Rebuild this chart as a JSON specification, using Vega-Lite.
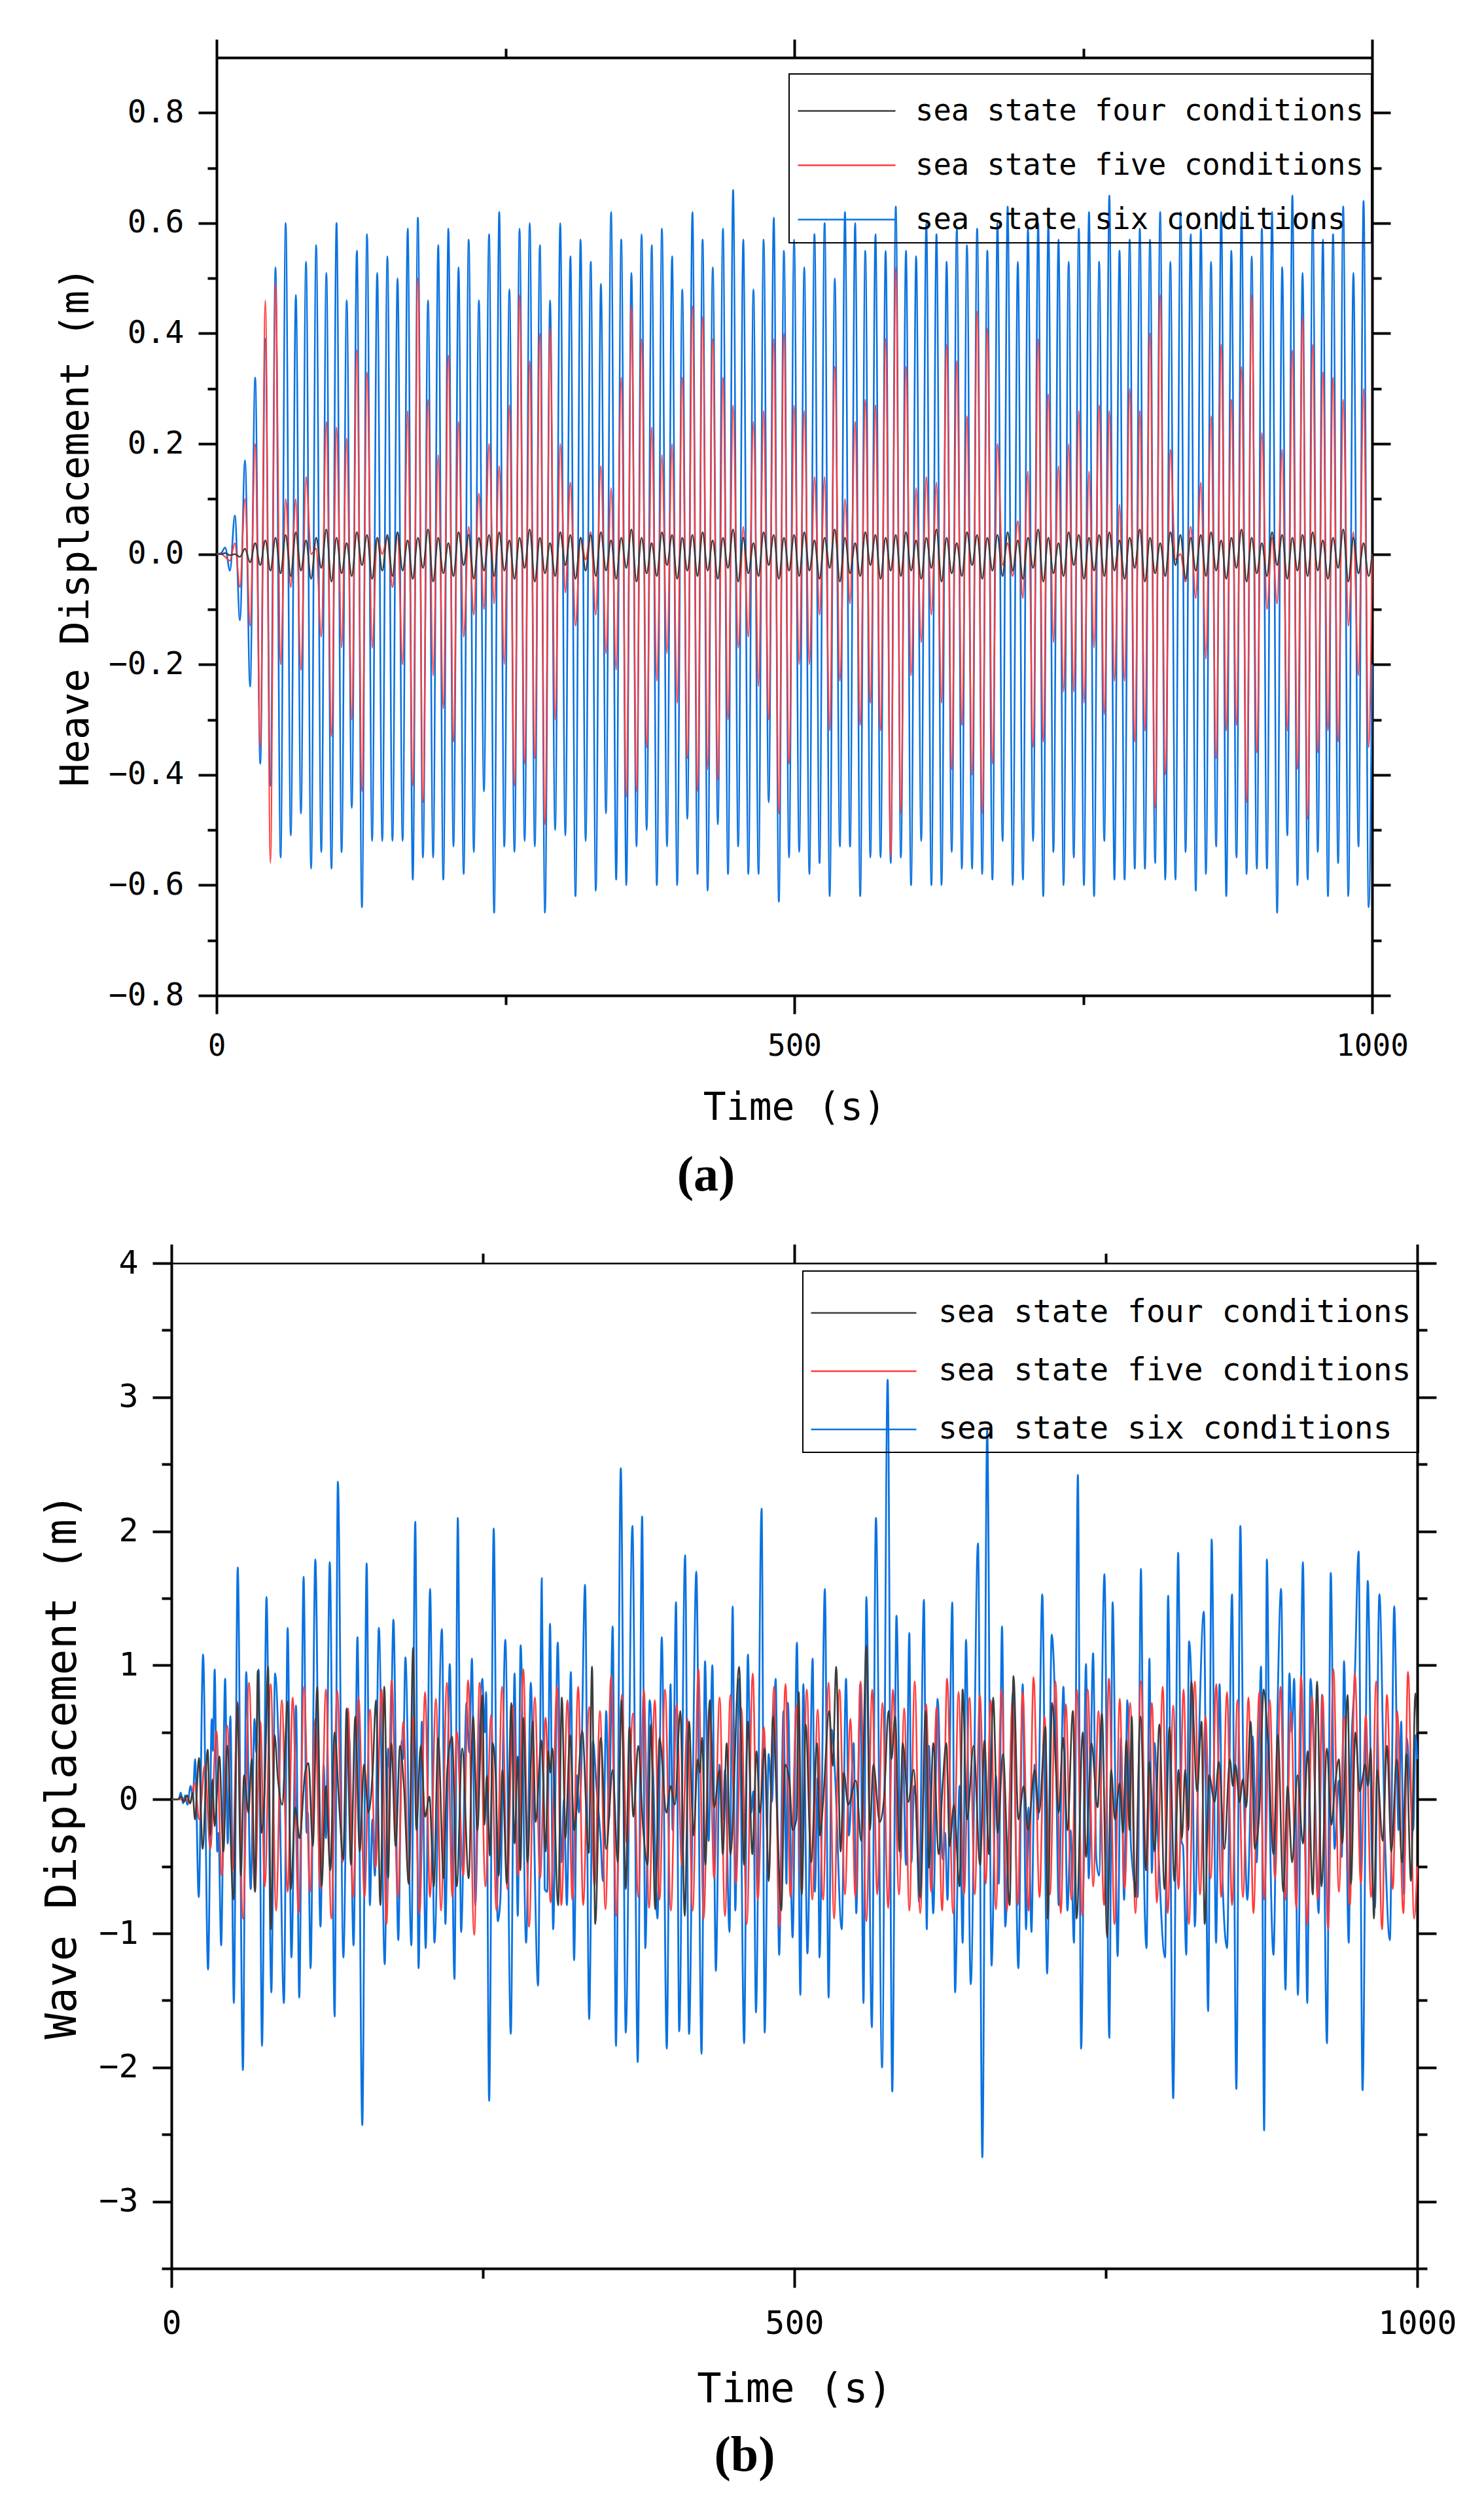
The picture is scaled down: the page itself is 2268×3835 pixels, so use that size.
{
  "$schema": "https://vega.github.io/schema/vega-lite/v6.json",
  "background": "white",
  "padding": {"left": 62, "top": 58, "right": 20, "bottom": 20},
  "config": {
    "font": "DejaVu Sans Mono",
    "view": {"stroke": null},
    "axis": {
      "domainColor": "black",
      "domainWidth": 4,
      "tickColor": "black",
      "tickWidth": 4,
      "labelColor": "black",
      "titleColor": "black",
      "titleFontWeight": "normal",
      "labelFlush": false,
      "labelOverlap": false,
      "grid": false
    },
    "legend": {
      "strokeColor": "black",
      "strokeWidth": 2,
      "labelColor": "black",
      "labelLimit": 2000,
      "symbolType": "stroke",
      "direction": "vertical"
    }
  },
  "datasets": {
    "heave": [
      {"t":0,"k":0,"r":0,"b":0},
      {"t":4,"k":0,"r":0,"b":0.002},
      {"t":7.4,"k":0.002,"r":-0.005,"b":0.012},
      {"t":11.6,"k":-0.002,"r":-0.012,"b":-0.03},
      {"t":15.8,"k":0,"r":0.02,"b":0.07},
      {"t":20.2,"k":-0.005,"r":-0.06,"b":-0.12},
      {"t":24.6,"k":0.01,"r":0.10,"b":0.17},
      {"t":29.0,"k":-0.015,"r":-0.13,"b":-0.24},
      {"t":33.4,"k":0.02,"r":0.20,"b":0.32},
      {"t":37.8,"k":-0.02,"r":-0.35,"b":-0.38},
      {"t":42.2,"k":0.025,"r":0.46,"b":0.39},
      {"t":46.6,"k":-0.03,"r":-0.56,"b":-0.42},
      {"t":51.0,"k":0.03,"r":0.49,"b":0.52},
      {"t":55.4,"k":-0.035,"r":-0.20,"b":-0.55},
      {"t":59.8,"k":0.035,"r":0.10,"b":0.60},
      {"t":64.2,"k":-0.04,"r":-0.06,"b":-0.51},
      {"t":68.6,"k":0.04,"r":0.10,"b":0.47},
      {"t":73.0,"k":-0.03,"r":-0.21,"b":-0.47},
      {"t":77.4,"k":0.025,"r":0.14,"b":0.53},
      {"t":81.8,"k":-0.045,"r":0.00,"b":-0.57},
      {"t":86.2,"k":0.03,"r":0.01,"b":0.56},
      {"t":90.6,"k":-0.025,"r":-0.15,"b":-0.54},
      {"t":95.0,"k":0.045,"r":0.24,"b":0.51},
      {"t":99.4,"k":-0.05,"r":-0.33,"b":-0.57},
      {"t":103.8,"k":0.03,"r":0.23,"b":0.60},
      {"t":108.2,"k":-0.035,"r":-0.17,"b":-0.54},
      {"t":112.6,"k":0.02,"r":0.21,"b":0.46},
      {"t":117.0,"k":-0.04,"r":-0.30,"b":-0.46},
      {"t":121.4,"k":0.04,"r":0.37,"b":0.55},
      {"t":125.8,"k":-0.02,"r":-0.43,"b":-0.64},
      {"t":130.2,"k":0.035,"r":0.33,"b":0.58},
      {"t":134.6,"k":-0.045,"r":-0.17,"b":-0.52},
      {"t":139.0,"k":0.03,"r":0.03,"b":0.51},
      {"t":143.4,"k":-0.03,"r":0.00,"b":-0.52},
      {"t":147.8,"k":0.035,"r":0.03,"b":0.54},
      {"t":152.2,"k":-0.04,"r":-0.06,"b":-0.52},
      {"t":156.6,"k":0.04,"r":0.04,"b":0.50},
      {"t":161.0,"k":-0.03,"r":-0.20,"b":-0.52},
      {"t":165.4,"k":0.025,"r":0.26,"b":0.59},
      {"t":169.8,"k":-0.045,"r":-0.42,"b":-0.59},
      {"t":174.2,"k":0.03,"r":0.50,"b":0.61},
      {"t":178.6,"k":-0.025,"r":-0.45,"b":-0.55},
      {"t":183.0,"k":0.045,"r":0.28,"b":0.46},
      {"t":187.4,"k":-0.05,"r":-0.22,"b":-0.55},
      {"t":191.8,"k":0.03,"r":0.18,"b":0.56},
      {"t":196.2,"k":-0.035,"r":-0.28,"b":-0.59},
      {"t":200.6,"k":0.02,"r":0.36,"b":0.59},
      {"t":205.0,"k":-0.04,"r":-0.34,"b":-0.53},
      {"t":209.4,"k":0.04,"r":0.24,"b":0.52},
      {"t":213.8,"k":-0.02,"r":-0.15,"b":-0.58},
      {"t":218.2,"k":0.035,"r":0.05,"b":0.57},
      {"t":222.6,"k":-0.045,"r":-0.11,"b":-0.54},
      {"t":227.0,"k":0.03,"r":0.11,"b":0.46},
      {"t":231.4,"k":-0.03,"r":-0.10,"b":-0.43},
      {"t":235.8,"k":0.035,"r":0.20,"b":0.58},
      {"t":240.2,"k":-0.04,"r":-0.09,"b":-0.65},
      {"t":244.6,"k":0.04,"r":0.16,"b":0.62},
      {"t":249.0,"k":-0.03,"r":-0.20,"b":-0.53},
      {"t":253.4,"k":0.025,"r":0.27,"b":0.48},
      {"t":257.8,"k":-0.045,"r":-0.42,"b":-0.54},
      {"t":262.2,"k":0.03,"r":0.47,"b":0.59},
      {"t":266.6,"k":-0.025,"r":-0.38,"b":-0.52},
      {"t":271.0,"k":0.045,"r":0.35,"b":0.60},
      {"t":275.4,"k":-0.05,"r":-0.37,"b":-0.53},
      {"t":279.8,"k":0.03,"r":0.40,"b":0.56},
      {"t":284.2,"k":-0.035,"r":-0.49,"b":-0.65},
      {"t":288.6,"k":0.02,"r":0.41,"b":0.46},
      {"t":293.0,"k":-0.04,"r":-0.30,"b":-0.50},
      {"t":297.4,"k":0.04,"r":0.20,"b":0.60},
      {"t":301.8,"k":-0.02,"r":-0.07,"b":-0.51},
      {"t":306.2,"k":0.035,"r":0.13,"b":0.54},
      {"t":310.6,"k":-0.045,"r":-0.13,"b":-0.62},
      {"t":315.0,"k":0.03,"r":0.03,"b":0.57},
      {"t":319.4,"k":-0.03,"r":-0.01,"b":-0.52},
      {"t":323.8,"k":0.035,"r":0.04,"b":0.53},
      {"t":328.2,"k":-0.04,"r":-0.11,"b":-0.61},
      {"t":332.6,"k":0.04,"r":0.16,"b":0.49},
      {"t":337.0,"k":-0.03,"r":-0.18,"b":-0.47},
      {"t":341.4,"k":0.025,"r":0.12,"b":0.62},
      {"t":345.8,"k":-0.045,"r":-0.21,"b":-0.59},
      {"t":350.2,"k":0.03,"r":0.32,"b":0.57},
      {"t":354.6,"k":-0.025,"r":-0.44,"b":-0.60},
      {"t":359.0,"k":0.045,"r":0.45,"b":0.51},
      {"t":363.4,"k":-0.05,"r":-0.43,"b":-0.53},
      {"t":367.8,"k":0.03,"r":0.39,"b":0.58},
      {"t":372.2,"k":-0.035,"r":-0.35,"b":-0.50},
      {"t":376.6,"k":0.02,"r":0.23,"b":0.56},
      {"t":381.0,"k":-0.04,"r":-0.23,"b":-0.60},
      {"t":385.4,"k":0.04,"r":0.18,"b":0.59},
      {"t":389.8,"k":-0.02,"r":-0.18,"b":-0.53},
      {"t":394.2,"k":0.035,"r":0.20,"b":0.54},
      {"t":398.6,"k":-0.045,"r":-0.27,"b":-0.60},
      {"t":403.0,"k":0.03,"r":0.32,"b":0.48},
      {"t":407.4,"k":-0.03,"r":-0.37,"b":-0.48},
      {"t":411.8,"k":0.035,"r":0.45,"b":0.62},
      {"t":416.2,"k":-0.04,"r":-0.43,"b":-0.58},
      {"t":420.6,"k":0.04,"r":0.43,"b":0.57},
      {"t":425.0,"k":-0.03,"r":-0.39,"b":-0.61},
      {"t":429.4,"k":0.025,"r":0.39,"b":0.52},
      {"t":433.8,"k":-0.045,"r":-0.41,"b":-0.49},
      {"t":438.2,"k":0.03,"r":0.32,"b":0.59},
      {"t":442.6,"k":-0.025,"r":-0.30,"b":-0.58},
      {"t":447.0,"k":0.045,"r":0.27,"b":0.66},
      {"t":451.4,"k":-0.05,"r":-0.17,"b":-0.53},
      {"t":455.8,"k":0.03,"r":0.05,"b":0.57},
      {"t":460.2,"k":-0.035,"r":-0.15,"b":-0.58},
      {"t":464.6,"k":0.02,"r":0.24,"b":0.48},
      {"t":469.0,"k":-0.04,"r":-0.24,"b":-0.58},
      {"t":473.4,"k":0.04,"r":0.26,"b":0.57},
      {"t":477.8,"k":-0.02,"r":-0.30,"b":-0.45},
      {"t":482.2,"k":0.035,"r":0.39,"b":0.61},
      {"t":486.6,"k":-0.045,"r":-0.47,"b":-0.63},
      {"t":491.0,"k":0.03,"r":0.40,"b":0.55},
      {"t":495.4,"k":-0.03,"r":-0.38,"b":-0.55},
      {"t":499.8,"k":0.035,"r":0.27,"b":0.57},
      {"t":504.2,"k":-0.04,"r":-0.20,"b":-0.54},
      {"t":508.6,"k":0.04,"r":0.26,"b":0.52},
      {"t":513.0,"k":-0.03,"r":-0.20,"b":-0.58},
      {"t":517.4,"k":0.025,"r":0.14,"b":0.58},
      {"t":521.8,"k":-0.045,"r":-0.11,"b":-0.56},
      {"t":526.2,"k":0.03,"r":0.14,"b":0.60},
      {"t":530.6,"k":-0.025,"r":-0.32,"b":-0.62},
      {"t":535.0,"k":0.045,"r":0.34,"b":0.50},
      {"t":539.4,"k":-0.05,"r":-0.23,"b":-0.53},
      {"t":543.8,"k":0.03,"r":0.10,"b":0.62},
      {"t":548.2,"k":-0.035,"r":-0.09,"b":-0.53},
      {"t":552.6,"k":0.02,"r":0.24,"b":0.60},
      {"t":557.0,"k":-0.04,"r":-0.31,"b":-0.62},
      {"t":561.4,"k":0.04,"r":0.28,"b":0.55},
      {"t":565.8,"k":-0.02,"r":-0.27,"b":-0.55},
      {"t":570.2,"k":0.035,"r":0.27,"b":0.58},
      {"t":574.6,"k":-0.045,"r":-0.32,"b":-0.55},
      {"t":579.0,"k":0.03,"r":0.39,"b":0.55},
      {"t":583.4,"k":-0.03,"r":-0.55,"b":-0.56},
      {"t":587.8,"k":0.035,"r":0.52,"b":0.63},
      {"t":592.2,"k":-0.04,"r":-0.47,"b":-0.55},
      {"t":596.6,"k":0.04,"r":0.34,"b":0.55},
      {"t":601.0,"k":-0.03,"r":-0.22,"b":-0.60},
      {"t":605.4,"k":0.025,"r":0.12,"b":0.54},
      {"t":609.8,"k":-0.045,"r":-0.16,"b":-0.52},
      {"t":614.2,"k":0.03,"r":0.14,"b":0.60},
      {"t":618.6,"k":-0.025,"r":-0.11,"b":-0.60},
      {"t":623.0,"k":0.045,"r":0.13,"b":0.58},
      {"t":627.4,"k":-0.05,"r":-0.27,"b":-0.60},
      {"t":631.8,"k":0.03,"r":0.38,"b":0.53},
      {"t":636.2,"k":-0.035,"r":-0.39,"b":-0.54},
      {"t":640.6,"k":0.02,"r":0.35,"b":0.59},
      {"t":645.0,"k":-0.04,"r":-0.31,"b":-0.57},
      {"t":649.4,"k":0.04,"r":0.25,"b":0.56},
      {"t":653.8,"k":-0.02,"r":-0.40,"b":-0.57},
      {"t":658.2,"k":0.035,"r":0.44,"b":0.59},
      {"t":662.6,"k":-0.045,"r":-0.47,"b":-0.58},
      {"t":667.0,"k":0.03,"r":0.41,"b":0.55},
      {"t":671.4,"k":-0.03,"r":-0.38,"b":-0.59},
      {"t":675.8,"k":0.035,"r":0.20,"b":0.60},
      {"t":680.2,"k":-0.04,"r":-0.02,"b":-0.52},
      {"t":684.6,"k":0.04,"r":0.02,"b":0.63},
      {"t":689.0,"k":-0.03,"r":-0.04,"b":-0.60},
      {"t":693.4,"k":0.025,"r":0.06,"b":0.53},
      {"t":697.8,"k":-0.045,"r":-0.08,"b":-0.59},
      {"t":702.2,"k":0.03,"r":0.15,"b":0.59},
      {"t":706.6,"k":-0.025,"r":-0.35,"b":-0.52},
      {"t":711.0,"k":0.045,"r":0.39,"b":0.60},
      {"t":715.4,"k":-0.05,"r":-0.34,"b":-0.62},
      {"t":719.8,"k":0.03,"r":0.29,"b":0.60},
      {"t":724.2,"k":-0.035,"r":-0.16,"b":-0.54},
      {"t":728.6,"k":0.02,"r":0.16,"b":0.57},
      {"t":733.0,"k":-0.04,"r":-0.25,"b":-0.60},
      {"t":737.4,"k":0.04,"r":0.20,"b":0.53},
      {"t":741.8,"k":-0.02,"r":-0.25,"b":-0.55},
      {"t":746.2,"k":0.035,"r":0.26,"b":0.59},
      {"t":750.6,"k":-0.045,"r":-0.27,"b":-0.60},
      {"t":755.0,"k":0.03,"r":0.15,"b":0.62},
      {"t":759.4,"k":-0.03,"r":-0.17,"b":-0.62},
      {"t":763.8,"k":0.035,"r":0.27,"b":0.53},
      {"t":768.2,"k":-0.04,"r":-0.29,"b":-0.52},
      {"t":772.6,"k":0.04,"r":0.26,"b":0.65},
      {"t":777.0,"k":-0.03,"r":-0.23,"b":-0.59},
      {"t":781.4,"k":0.025,"r":0.09,"b":0.55},
      {"t":785.8,"k":-0.045,"r":-0.23,"b":-0.59},
      {"t":790.2,"k":0.03,"r":0.30,"b":0.57},
      {"t":794.6,"k":-0.025,"r":-0.34,"b":-0.57},
      {"t":799.0,"k":0.045,"r":0.26,"b":0.59},
      {"t":803.4,"k":-0.05,"r":-0.32,"b":-0.57},
      {"t":807.8,"k":0.03,"r":0.40,"b":0.57},
      {"t":812.2,"k":-0.035,"r":-0.46,"b":-0.56},
      {"t":816.6,"k":0.02,"r":0.47,"b":0.62},
      {"t":821.0,"k":-0.04,"r":-0.40,"b":-0.59},
      {"t":825.4,"k":0.04,"r":0.19,"b":0.53},
      {"t":829.8,"k":-0.02,"r":-0.01,"b":-0.59},
      {"t":834.2,"k":0.035,"r":0.00,"b":0.62},
      {"t":838.6,"k":-0.045,"r":-0.05,"b":-0.54},
      {"t":843.0,"k":0.03,"r":0.05,"b":0.58},
      {"t":847.4,"k":-0.03,"r":-0.08,"b":-0.61},
      {"t":851.8,"k":0.035,"r":0.13,"b":0.59},
      {"t":856.2,"k":-0.04,"r":-0.19,"b":-0.58},
      {"t":860.6,"k":0.04,"r":0.25,"b":0.53},
      {"t":865.0,"k":-0.03,"r":-0.37,"b":-0.53},
      {"t":869.4,"k":0.025,"r":0.38,"b":0.62},
      {"t":873.8,"k":-0.045,"r":-0.32,"b":-0.62},
      {"t":878.2,"k":0.03,"r":0.28,"b":0.55},
      {"t":882.6,"k":-0.025,"r":-0.31,"b":-0.55},
      {"t":887.0,"k":0.045,"r":0.34,"b":0.62},
      {"t":891.4,"k":-0.05,"r":-0.45,"b":-0.58},
      {"t":895.8,"k":0.03,"r":0.47,"b":0.54},
      {"t":900.2,"k":-0.035,"r":-0.36,"b":-0.57},
      {"t":904.6,"k":0.02,"r":0.22,"b":0.59},
      {"t":909.0,"k":-0.04,"r":-0.10,"b":-0.57},
      {"t":913.4,"k":0.04,"r":0.03,"b":0.62},
      {"t":917.8,"k":-0.02,"r":-0.09,"b":-0.65},
      {"t":922.2,"k":0.035,"r":0.19,"b":0.52},
      {"t":926.6,"k":-0.045,"r":-0.32,"b":-0.51},
      {"t":931.0,"k":0.03,"r":0.37,"b":0.65},
      {"t":935.4,"k":-0.03,"r":-0.39,"b":-0.60},
      {"t":939.8,"k":0.035,"r":0.43,"b":0.51},
      {"t":944.2,"k":-0.04,"r":-0.48,"b":-0.59},
      {"t":948.6,"k":0.04,"r":0.38,"b":0.61},
      {"t":953.0,"k":-0.03,"r":-0.36,"b":-0.54},
      {"t":957.4,"k":0.025,"r":0.33,"b":0.57},
      {"t":961.8,"k":-0.045,"r":-0.32,"b":-0.62},
      {"t":966.2,"k":0.03,"r":0.32,"b":0.58},
      {"t":970.6,"k":-0.025,"r":-0.34,"b":-0.56},
      {"t":975.0,"k":0.045,"r":0.28,"b":0.63},
      {"t":979.4,"k":-0.05,"r":-0.13,"b":-0.62},
      {"t":983.8,"k":0.03,"r":0.04,"b":0.51},
      {"t":988.2,"k":-0.035,"r":-0.22,"b":-0.53},
      {"t":992.6,"k":0.02,"r":0.30,"b":0.64},
      {"t":997.0,"k":-0.04,"r":-0.35,"b":-0.64},
      {"t":1000,"k":0,"r":0,"b":-0.2}
    ],
    "wb": [
      {"t":0,"v":0},{"t":5.8,"v":0},{"t":7.5,"v":0.05},{"t":9.3,"v":-0.03},{"t":11.0,"v":0.03},{"t":12.8,"v":-0.04},{"t":15.4,"v":0.1},{"t":17.2,"v":0.02},
      {"t":19.0,"v":0.30},{"t":21.9,"v":-0.73},{"t":25.4,"v":1.08},{"t":29.4,"v":-1.27},{"t":32.4,"v":0.60},{"t":33.3,"v":0.36},{"t":34.7,"v":0.97},{"t":36.8,"v":-0.39},{"t":37.8,"v":-0.25},{"t":39.9,"v":-1.09},
      {"t":43.1,"v":0.90},{"t":45.2,"v":-0.33},{"t":47.3,"v":0.62},{"t":50.1,"v":-1.52},{"t":53.2,"v":1.73},{"t":57.4,"v":-2.02},{"t":60.0,"v":0.95},{"t":63.6,"v":-0.67},{"t":66.7,"v":0.60},{"t":68.0,"v":0.35},
      {"t":70.0,"v":0.97},{"t":72.7,"v":-1.84},{"t":76.3,"v":1.51},{"t":80.2,"v":-1.44},{"t":83.2,"v":0.94},{"t":86.3,"v":0.30},{"t":90.3,"v":-1.52},{"t":93.3,"v":1.28},{"t":96.3,"v":-1.18},{"t":100.0,"v":0.70},
      {"t":102.6,"v":-1.48},{"t":106.1,"v":1.66},{"t":108.5,"v":-0.25},{"t":109.5,"v":-0.10},{"t":111.7,"v":-1.26},{"t":115.5,"v":1.79},{"t":119.6,"v":-0.95},{"t":122.2,"v":0.26},{"t":124.0,"v":-0.29},{"t":127.1,"v":1.77},
      {"t":131.0,"v":-1.62},{"t":133.6,"v":2.37},{"t":138.0,"v":-1.18},{"t":141.5,"v":0.54},{"t":143.0,"v":0.42},{"t":146.2,"v":-1.09},{"t":149.3,"v":1.21},{"t":153.2,"v":-2.43},{"t":156.7,"v":1.76},{"t":159.3,"v":-0.79},
      {"t":161.3,"v":-0.15},{"t":163.3,"v":-0.57},{"t":166.5,"v":1.28},{"t":171.2,"v":-1.23},{"t":173.9,"v":0.38},{"t":175.5,"v":0.2},{"t":178.2,"v":1.34},{"t":182.1,"v":-1.05},{"t":184.9,"v":0.44},{"t":186.0,"v":0.30},
      {"t":187.8,"v":1.06},{"t":192.6,"v":-1.09},{"t":195.7,"v":2.07},{"t":198.4,"v":-1.26},{"t":201.0,"v":0.58},{"t":204.1,"v":-1.11},{"t":207.6,"v":1.57},{"t":211.1,"v":-1.07},{"t":217.1,"v":1.27},{"t":219.9,"v":-0.93},
      {"t":223.4,"v":1.01},{"t":227.2,"v":-1.34},{"t":229.9,"v":2.10},{"t":232.5,"v":-0.99},{"t":236.9,"v":0.72},{"t":239.0,"v":0.35},{"t":241.2,"v":1.05},{"t":243.9,"v":-0.79},{"t":246.5,"v":0.2},{"t":249.5,"v":0.90},
      {"t":251.5,"v":0.50},{"t":252.6,"v":0.80},{"t":255.0,"v":-2.25},{"t":258.7,"v":2.02},{"t":261.9,"v":-0.91},{"t":264.0,"v":-0.75},{"t":268.0,"v":1.19},{"t":272.4,"v":-1.75},{"t":275.4,"v":0.94},{"t":278.0,"v":-0.87},
      {"t":280.3,"v":1.15},{"t":284.7,"v":-1.07},{"t":288.5,"v":0.87},{"t":290.6,"v":-0.02},{"t":294.3,"v":-1.39},{"t":297.3,"v":1.65},{"t":299.6,"v":-0.67},{"t":301.6,"v":-0.69},{"t":303.9,"v":1.31},{"t":306.4,"v":-0.97},
      {"t":310.1,"v":1.17},{"t":313.0,"v":-0.47},{"t":315.1,"v":0.0},{"t":317.4,"v":-0.79},{"t":320.6,"v":0.95},{"t":323.2,"v":-1.20},{"t":325.6,"v":0.18},{"t":327.0,"v":-0.10},{"t":328.8,"v":0.16},{"t":332.0,"v":1.60},
      {"t":335.3,"v":-1.64},{"t":338.4,"v":0.44},{"t":341.1,"v":0.10},{"t":344.6,"v":-0.31},{"t":346.3,"v":-0.61},{"t":349.0,"v":0.66},{"t":351.2,"v":-0.15},{"t":354.2,"v":1.29},{"t":356.8,"v":-1.84},{"t":360.7,"v":2.47},
      {"t":364.7,"v":-1.74},{"t":370.0,"v":2.04},{"t":374.3,"v":-1.96},{"t":377.8,"v":2.11},{"t":380.4,"v":-1.11},{"t":383.9,"v":0.74},{"t":386.6,"v":0.22},{"t":390.1,"v":-0.89},{"t":393.6,"v":1.21},{"t":397.6,"v":-1.86},
      {"t":400.6,"v":0.86},{"t":402.3,"v":-0.23},{"t":405.0,"v":1.47},{"t":407.6,"v":-1.73},{"t":412.3,"v":1.82},{"t":415.5,"v":-1.75},{"t":418.1,"v":-0.19},{"t":421.3,"v":1.70},{"t":425.5,"v":-1.90},{"t":428.3,"v":1.03},
      {"t":431.2,"v":-0.31},{"t":434.2,"v":1.00},{"t":437.0,"v":-1.28},{"t":440.0,"v":0.26},{"t":442.6,"v":-0.15},{"t":444.4,"v":0.22},{"t":447.9,"v":-0.99},{"t":450.5,"v":1.44},{"t":452.6,"v":-0.83},{"t":455.7,"v":0.90},
      {"t":459.7,"v":-1.82},{"t":462.7,"v":1.08},{"t":465.3,"v":-0.10},{"t":467.1,"v":0.06},{"t":469.2,"v":-1.59},{"t":473.7,"v":2.17},{"t":476.2,"v":-1.74},{"t":479.4,"v":0.34},{"t":482.0,"v":-0.02},{"t":485.0,"v":0.90},
      {"t":487.8,"v":-1.16},{"t":491.3,"v":0.66},{"t":493.7,"v":-0.63},{"t":494.8,"v":0.72},{"t":498.6,"v":-1.03},{"t":502.1,"v":1.17},{"t":504.8,"v":-1.46},{"t":507.2,"v":0.86},{"t":510.5,"v":-1.15},{"t":514.7,"v":1.05},
      {"t":516.5,"v":-0.69},{"t":518.7,"v":0.16},{"t":520.2,"v":-1.18},{"t":524.5,"v":1.57},{"t":527.5,"v":-1.48},{"t":530.1,"v":0.52},{"t":532.7,"v":0.18},{"t":538.0,"v":-0.97},{"t":541.5,"v":0.90},{"t":543.8,"v":-0.27},
      {"t":547.6,"v":0.42},{"t":549.7,"v":-0.85},{"t":552.9,"v":0.86},{"t":555.5,"v":-1.52},{"t":557.8,"v":1.51},{"t":562.2,"v":-1.70},{"t":565.5,"v":2.10},{"t":570.4,"v":-2.00},{"t":574.9,"v":3.13},{"t":578.6,"v":-2.18},
      {"t":582.0,"v":1.37},{"t":585.4,"v":-0.45},{"t":587.0,"v":0.42},{"t":589.6,"v":-0.49},{"t":592.3,"v":1.24},{"t":594.0,"v":-0.47},{"t":596.1,"v":0.10},{"t":598.0,"v":-0.06},{"t":600.1,"v":-0.77},{"t":604.0,"v":1.49},
      {"t":606.3,"v":-0.97},{"t":608.0,"v":0.40},{"t":611.5,"v":-0.85},{"t":615.0,"v":0.75},{"t":619.1,"v":-0.45},{"t":621.0,"v":-0.25},{"t":622.9,"v":-0.75},{"t":626.8,"v":1.47},{"t":629.0,"v":-1.44},{"t":632.6,"v":0.10},
      {"t":635.1,"v":-1.07},{"t":637.8,"v":1.19},{"t":641.6,"v":-1.38},{"t":647.4,"v":1.91},{"t":650.9,"v":-2.67},{"t":654.8,"v":2.76},{"t":658.3,"v":-1.24},{"t":661.8,"v":0.18},{"t":664.1,"v":-0.63},{"t":666.7,"v":1.29},
      {"t":669.3,"v":-0.95},{"t":671.9,"v":-0.31},{"t":675.5,"v":0.80},{"t":679.8,"v":-1.26},{"t":683.3,"v":0.86},{"t":686.0,"v":-0.97},{"t":688.0,"v":-0.06},{"t":690.3,"v":-0.99},{"t":692.9,"v":0.26},{"t":695.5,"v":-0.15},
      {"t":699.0,"v":1.53},{"t":702.9,"v":-1.30},{"t":706.6,"v":1.23},{"t":709.6,"v":0.58},{"t":712.2,"v":-0.79},{"t":716.0,"v":0.84},{"t":719.2,"v":-0.83},{"t":721.8,"v":-0.23},{"t":724.4,"v":-1.07},{"t":727.6,"v":2.42},
      {"t":730.2,"v":-1.86},{"t":734.1,"v":1.01},{"t":736.3,"v":-0.59},{"t":739.8,"v":1.09},{"t":742.3,"v":-0.43},{"t":744.5,"v":-0.57},{"t":748.9,"v":1.68},{"t":752.8,"v":-1.78},{"t":755.5,"v":1.47},{"t":759.5,"v":-1.17},
      {"t":762.1,"v":0.46},{"t":764.7,"v":-0.75},{"t":767.3,"v":0.74},{"t":770.3,"v":-0.37},{"t":775.6,"v":-0.73},{"t":778.2,"v":1.72},{"t":780.5,"v":-0.45},{"t":782.7,"v":-1.11},{"t":785.0,"v":1.05},{"t":787.0,"v":-0.55},
      {"t":789.2,"v":0.42},{"t":791.8,"v":-0.27},{"t":797.6,"v":-1.18},{"t":800.0,"v":1.52},{"t":804.1,"v":-2.23},{"t":808.1,"v":1.84},{"t":810.7,"v":-0.31},{"t":812.0,"v":-0.35},{"t":814.6,"v":-1.16},{"t":816.8,"v":1.18},
      {"t":819.3,"v":0.62},{"t":821.5,"v":-0.95},{"t":823.8,"v":0.04},{"t":828.7,"v":1.40},{"t":832.1,"v":-1.58},{"t":835.0,"v":1.94},{"t":838.5,"v":-1.07},{"t":841.3,"v":0.86},{"t":843.8,"v":-0.63},{"t":847.3,"v":-1.11},
      {"t":851.3,"v":1.53},{"t":854.8,"v":-2.16},{"t":858.0,"v":2.04},{"t":860.4,"v":0.22},{"t":861.5,"v":-0.21},{"t":863.6,"v":-0.75},{"t":867.9,"v":0.47},{"t":871.1,"v":-0.47},{"t":874.6,"v":0.99},{"t":877.1,"v":-2.47},
      {"t":879.3,"v":1.79},{"t":881.6,"v":-0.10},{"t":884.6,"v":-1.16},{"t":887.6,"v":0.56},{"t":890.7,"v":1.57},{"t":894.2,"v":-1.42},{"t":897.4,"v":0.94},{"t":899.3,"v":0.50},{"t":901.2,"v":0.90},{"t":904.2,"v":-1.46},
      {"t":908.2,"v":1.77},{"t":911.7,"v":-1.52},{"t":914.3,"v":0.90},{"t":917.5,"v":0.20},{"t":920.8,"v":-0.85},{"t":923.6,"v":0.78},{"t":927.5,"v":-1.82},{"t":930.6,"v":1.69},{"t":933.6,"v":-0.37},{"t":937.1,"v":0.14},
      {"t":939.4,"v":-0.43},{"t":941.2,"v":1.03},{"t":945.0,"v":-1.07},{"t":946.8,"v":0.28},{"t":949.9,"v":0.92},{"t":952.9,"v":1.85},{"t":956.1,"v":-2.17},{"t":960.3,"v":1.63},{"t":964.0,"v":-0.63},{"t":966.0,"v":-0.81},
      {"t":969.6,"v":1.53},{"t":974.0,"v":-0.27},{"t":978.0,"v":-1.05},{"t":981.5,"v":1.44},{"t":985.0,"v":-0.23},{"t":987.1,"v":0.58},{"t":989.3,"v":-0.71},{"t":991.5,"v":0.46},{"t":993.8,"v":0.18},{"t":996.8,"v":-0.23},
      {"t":998.6,"v":0.48},{"t":1000,"v":0.3}
    ],
    "wr": [
      {"t":0,"v":0},{"t":12,"v":0},{"t":15,"v":-0.03},{"t":18.6,"v":0.12},{"t":22.4,"v":-0.15},{"t":26.8,"v":0.26},{"t":31.2,"v":-0.37},{"t":36.1,"v":0.51},{"t":40.4,"v":-0.57},{"t":44.8,"v":0.55},
      {"t":49.0,"v":-0.53},{"t":53.0,"v":0.73},{"t":57.4,"v":-0.89},{"t":62.3,"v":0.87},{"t":67.0,"v":-0.69},{"t":71.4,"v":0.58},{"t":74.9,"v":-0.65},{"t":79.7,"v":0.86},{"t":84.0,"v":-0.83},{"t":88.6,"v":0.74},
      {"t":93.3,"v":-0.69},{"t":97.3,"v":0.76},{"t":102.1,"v":-0.85},{"t":106.4,"v":0.84},{"t":111.3,"v":-0.69},{"t":115.5,"v":0.60},{"t":119.6,"v":-0.67},{"t":124.0,"v":0.82},{"t":128.3,"v":-0.89},{"t":133.1,"v":0.81},
      {"t":137.4,"v":-0.47},{"t":141.8,"v":0.68},{"t":145.8,"v":-0.73},{"t":150.2,"v":0.76},{"t":155.0,"v":-0.73},{"t":159.3,"v":0.67},{"t":163.9,"v":-0.51},{"t":168.6,"v":0.82},{"t":172.6,"v":-0.93},{"t":176.8,"v":0.89},
      {"t":181.7,"v":-0.73},{"t":186.1,"v":0.58},{"t":190.5,"v":-0.63},{"t":194.3,"v":0.62},{"t":199.2,"v":-0.85},{"t":203.6,"v":0.80},{"t":207.5,"v":-0.73},{"t":212.3,"v":0.75},{"t":216.4,"v":-0.83},{"t":221.1,"v":0.87},
      {"t":225.5,"v":-0.73},{"t":229.0,"v":0.51},{"t":234.3,"v":-0.57},{"t":238.1,"v":0.89},{"t":243.0,"v":-1.01},{"t":247.4,"v":0.87},{"t":252.0,"v":-0.65},{"t":256.6,"v":0.63},{"t":260.9,"v":-0.83},{"t":265.4,"v":0.84},
      {"t":269.6,"v":-0.67},{"t":274.0,"v":0.70},{"t":278.4,"v":-0.57},{"t":282.4,"v":0.97},{"t":287.1,"v":-0.95},{"t":291.7,"v":0.76},{"t":295.9,"v":-0.59},{"t":300.4,"v":0.61},{"t":304.3,"v":-0.77},{"t":309.5,"v":0.84},
      {"t":313.0,"v":-0.79},{"t":317.9,"v":0.74},{"t":321.8,"v":-0.75},{"t":326.5,"v":0.84},{"t":330.5,"v":-0.79},{"t":335.3,"v":0.69},{"t":339.6,"v":-0.65},{"t":344.0,"v":0.66},{"t":348.4,"v":-0.82},{"t":352.9,"v":0.92},
      {"t":357.2,"v":-0.87},{"t":361.5,"v":0.78},{"t":365.5,"v":-0.33},{"t":370.5,"v":0.64},{"t":374.7,"v":-0.73},{"t":379.2,"v":0.82},{"t":383.4,"v":-0.81},{"t":388.0,"v":0.74},{"t":391.8,"v":-0.75},{"t":396.2,"v":0.82},
      {"t":400.9,"v":-0.83},{"t":405.5,"v":0.71},{"t":409.7,"v":-0.49},{"t":414.2,"v":0.60},{"t":418.4,"v":-0.83},{"t":423.0,"v":0.97},{"t":427.2,"v":-0.89},{"t":431.7,"v":0.68},{"t":435.6,"v":-0.59},{"t":440.0,"v":0.76},
      {"t":444.3,"v":-0.87},{"t":448.7,"v":0.78},{"t":453.1,"v":-0.63},{"t":457.5,"v":0.68},{"t":461.8,"v":-0.93},{"t":466.6,"v":0.94},{"t":470.6,"v":-0.75},{"t":475.5,"v":0.54},{"t":479.4,"v":-0.59},{"t":483.7,"v":0.84},
      {"t":488.1,"v":-0.95},{"t":492.9,"v":0.86},{"t":496.9,"v":-0.73},{"t":501.7,"v":0.70},{"t":505.6,"v":-0.68},{"t":510.0,"v":0.82},{"t":514.4,"v":-0.75},{"t":518.7,"v":0.67},{"t":523.1,"v":-0.75},{"t":527.5,"v":0.87},
      {"t":531.9,"v":-0.89},{"t":536.3,"v":0.82},{"t":540.6,"v":-0.71},{"t":545.0,"v":0.60},{"t":549.0,"v":-0.73},{"t":553.2,"v":0.88},{"t":557.8,"v":-0.91},{"t":562.5,"v":0.82},{"t":566.5,"v":-0.71},{"t":570.7,"v":0.72},
      {"t":575.3,"v":-0.81},{"t":579.1,"v":0.82},{"t":584.0,"v":-0.71},{"t":588.2,"v":0.68},{"t":592.3,"v":-0.83},{"t":596.6,"v":0.88},{"t":601.0,"v":-0.85},{"t":605.8,"v":0.71},{"t":609.8,"v":-0.69},{"t":614.2,"v":0.69},
      {"t":618.6,"v":-0.83},{"t":622.6,"v":0.90},{"t":627.4,"v":-0.85},{"t":631.8,"v":0.80},{"t":636.2,"v":-0.71},{"t":640.6,"v":0.76},{"t":644.8,"v":-0.71},{"t":648.9,"v":0.78},{"t":653.6,"v":-0.63},{"t":657.6,"v":0.74},
      {"t":661.8,"v":-0.82},{"t":666.3,"v":0.82},{"t":670.6,"v":-0.83},{"t":675.1,"v":0.74},{"t":679.3,"v":-0.79},{"t":683.3,"v":0.80},{"t":688.0,"v":-0.83},{"t":692.0,"v":0.91},{"t":696.8,"v":-0.73},{"t":700.8,"v":0.62},
      {"t":705.2,"v":-0.71},{"t":709.6,"v":0.88},{"t":713.9,"v":-0.85},{"t":717.9,"v":0.71},{"t":722.4,"v":-0.75},{"t":726.8,"v":0.82},{"t":731.1,"v":-0.87},{"t":735.5,"v":0.82},{"t":739.9,"v":-0.65},{"t":744.1,"v":0.66},
      {"t":748.6,"v":-0.79},{"t":752.5,"v":0.90},{"t":757.0,"v":-0.93},{"t":761.2,"v":0.75},{"t":765.1,"v":-0.67},{"t":769.6,"v":0.72},{"t":773.8,"v":-0.85},{"t":778.2,"v":0.88},{"t":782.6,"v":-0.53},{"t":787.0,"v":0.72},
      {"t":791.0,"v":-0.77},{"t":795.7,"v":0.84},{"t":799.7,"v":-0.85},{"t":804.1,"v":0.70},{"t":808.4,"v":-0.67},{"t":812.4,"v":0.82},{"t":816.7,"v":-0.93},{"t":821.5,"v":0.88},{"t":825.6,"v":-0.71},{"t":830.0,"v":0.62},
      {"t":834.2,"v":-0.59},{"t":838.7,"v":0.86},{"t":842.6,"v":-0.73},{"t":847.3,"v":0.80},{"t":851.3,"v":-0.79},{"t":855.7,"v":0.74},{"t":860.1,"v":-0.73},{"t":864.5,"v":0.76},{"t":868.5,"v":-0.85},{"t":873.2,"v":0.80},
      {"t":877.1,"v":-0.75},{"t":881.6,"v":0.74},{"t":885.8,"v":-0.59},{"t":890.3,"v":0.84},{"t":894.2,"v":-0.75},{"t":898.6,"v":0.66},{"t":902.9,"v":-0.81},{"t":906.8,"v":0.92},{"t":911.7,"v":-0.93},{"t":915.6,"v":0.76},
      {"t":920.1,"v":-0.75},{"t":924.0,"v":0.78},{"t":928.4,"v":-0.97},{"t":932.7,"v":0.97},{"t":937.1,"v":-0.69},{"t":941.2,"v":0.62},{"t":945.9,"v":-0.79},{"t":949.9,"v":0.94},{"t":954.7,"v":-0.63},{"t":958.7,"v":0.63},
      {"t":962.9,"v":-0.73},{"t":967.0,"v":0.88},{"t":971.7,"v":-0.97},{"t":975.7,"v":0.78},{"t":980.4,"v":-0.67},{"t":983.9,"v":0.66},{"t":988.8,"v":-0.85},{"t":992.6,"v":0.95},{"t":997.5,"v":-0.89},{"t":1000,"v":-0.5}
    ],
    "wk": [
      {"t":0,"v":0},{"t":5,"v":0},{"t":8,"v":0.02},{"t":10,"v":-0.02},{"t":12.5,"v":0.03},{"t":15,"v":-0.03},{"t":17,"v":0.05},
      {"t":18.9,"v":-0.15},{"t":22.1,"v":0.31},{"t":25.0,"v":-0.37},{"t":29.1,"v":0.37},{"t":31.2,"v":-0.27},{"t":32.9,"v":0.15},{"t":34.7,"v":-0.20},{"t":38.5,"v":0.32},{"t":41.7,"v":-0.39},{"t":44.8,"v":0.40},
      {"t":49.7,"v":-0.75},{"t":53.0,"v":0.72},{"t":55.7,"v":-0.57},{"t":58.3,"v":0.18},{"t":61.8,"v":-0.10},{"t":64.4,"v":0.30},{"t":67.1,"v":-0.69},{"t":69.3,"v":0.96},{"t":72.3,"v":-0.25},{"t":74.9,"v":0.10},
      {"t":77.6,"v":0.99},{"t":79.8,"v":-0.97},{"t":82.8,"v":0.48},{"t":85.4,"v":0.16},{"t":88.9,"v":-0.04},{"t":93.3,"v":0.73},{"t":95.9,"v":-0.67},{"t":99.4,"v":-0.06},{"t":102.9,"v":-0.29},{"t":107.3,"v":0.20},
      {"t":110.0,"v":0.27},{"t":113.5,"v":-0.35},{"t":117.0,"v":0.84},{"t":120.5,"v":-0.65},{"t":124.0,"v":0.10},{"t":127.5,"v":-0.53},{"t":131.0,"v":0.50},{"t":134.5,"v":-0.02},{"t":138.0,"v":-0.45},{"t":140.6,"v":0.68},
      {"t":144.1,"v":-0.49},{"t":147.6,"v":0.62},{"t":151.1,"v":-0.39},{"t":154.6,"v":0.26},{"t":158.1,"v":-0.10},{"t":161.6,"v":0.22},{"t":164.2,"v":0.74},{"t":167.7,"v":-0.79},{"t":170.9,"v":0.84},{"t":173.9,"v":-0.59},
      {"t":176.5,"v":0.42},{"t":180.0,"v":-0.35},{"t":183.5,"v":0.40},{"t":186.6,"v":0.10},{"t":190.5,"v":-0.63},{"t":194.0,"v":1.13},{"t":196.6,"v":-0.23},{"t":200.1,"v":0.40},{"t":203.6,"v":-0.13},{"t":207.1,"v":0.02},
      {"t":210.6,"v":-0.65},{"t":214.1,"v":0.46},{"t":218.5,"v":-0.59},{"t":221.1,"v":0.18},{"t":225.2,"v":0.47},{"t":229.0,"v":-0.65},{"t":233.4,"v":0.38},{"t":238.6,"v":-0.59},{"t":242.1,"v":0.62},{"t":245.6,"v":-0.23},
      {"t":249.7,"v":0.78},{"t":251.3,"v":-0.19},{"t":253.2,"v":0.18},{"t":255.6,"v":-0.42},{"t":257.9,"v":0.42},{"t":260.2,"v":0.18},{"t":262.6,"v":-0.57},{"t":265.7,"v":0.22},{"t":269.2,"v":-0.63},{"t":272.8,"v":0.72},
      {"t":275.4,"v":-0.33},{"t":278.0,"v":0.32},{"t":280.1,"v":-0.53},{"t":282.4,"v":0.61},{"t":285.9,"v":-0.47},{"t":289.9,"v":0.58},{"t":292.4,"v":-0.17},{"t":296.9,"v":0.44},{"t":300.4,"v":-0.39},{"t":302.5,"v":0.36},
      {"t":304.2,"v":0.2},{"t":305.7,"v":0.38},{"t":310.4,"v":-0.79},{"t":313.4,"v":0.76},{"t":316.2,"v":-0.29},{"t":320.0,"v":0.48},{"t":323.2,"v":-0.23},{"t":325.3,"v":-0.06},{"t":329.7,"v":0.51},{"t":335.0,"v":-0.40},
      {"t":337.6,"v":0.99},{"t":340.2,"v":-0.93},{"t":344.6,"v":0.46},{"t":349.0,"v":-0.37},{"t":354.2,"v":0.22},{"t":358.2,"v":-0.47},{"t":361.2,"v":0.74},{"t":364.7,"v":-0.67},{"t":367.6,"v":0.54},{"t":370.8,"v":-0.13},
      {"t":374.7,"v":0.40},{"t":378.7,"v":-0.23},{"t":382.2,"v":-0.49},{"t":384.8,"v":0.56},{"t":388.3,"v":-0.82},{"t":391.8,"v":0.46},{"t":397.3,"v":-0.10},{"t":400.6,"v":0.10},{"t":404.1,"v":-0.04},{"t":408.5,"v":0.66},
      {"t":412.0,"v":-0.87},{"t":415.5,"v":0.58},{"t":419.0,"v":-0.27},{"t":422.5,"v":0.30},{"t":424.0,"v":0.2},{"t":426.0,"v":0.46},{"t":428.6,"v":-0.49},{"t":432.1,"v":0.74},{"t":435.6,"v":-0.06},{"t":440.0,"v":0.22},
      {"t":442.6,"v":-0.41},{"t":445.7,"v":0.42},{"t":448.7,"v":-0.41},{"t":455.7,"v":0.99},{"t":459.6,"v":-0.49},{"t":462.7,"v":0.58},{"t":466.2,"v":-0.41},{"t":469.7,"v":0.36},{"t":472.3,"v":-0.10},{"t":476.2,"v":0.38},
      {"t":479.4,"v":-0.61},{"t":482.9,"v":0.62},{"t":486.0,"v":-0.06},{"t":489.5,"v":-0.83},{"t":492.5,"v":0.26},{"t":496.0,"v":0.14},{"t":498.6,"v":-0.23},{"t":501.6,"v":-0.15},{"t":503.5,"v":0.80},{"t":506.0,"v":-0.71},
      {"t":509.1,"v":0.56},{"t":513.5,"v":-0.47},{"t":518.2,"v":0.42},{"t":520.5,"v":-0.27},{"t":523.1,"v":-0.02},{"t":528.0,"v":0.66},{"t":530.8,"v":0.25},{"t":533.6,"v":0.99},{"t":537.1,"v":-0.39},{"t":539.7,"v":0.20},
      {"t":543.2,"v":-0.04},{"t":549.4,"v":0.14},{"t":553.7,"v":-0.31},{"t":557.8,"v":1.15},{"t":560.7,"v":-0.23},{"t":563.4,"v":0.26},{"t":568.6,"v":-0.17},{"t":572.1,"v":0.02},{"t":575.6,"v":0.66},{"t":578.0,"v":0.3},
      {"t":580.9,"v":0.62},{"t":584.4,"v":-0.39},{"t":587.0,"v":0.42},{"t":591.4,"v":-0.02},{"t":595.8,"v":0.22},{"t":601.0,"v":-0.73},{"t":605.4,"v":0.66},{"t":608.0,"v":-0.51},{"t":611.5,"v":0.42},{"t":615.9,"v":-0.41},
      {"t":619.0,"v":0.1},{"t":622.0,"v":0.42},{"t":624.6,"v":-0.35},{"t":628.1,"v":-0.04},{"t":632.6,"v":-0.65},{"t":635.1,"v":0.82},{"t":638.6,"v":-0.15},{"t":643.9,"v":0.40},{"t":649.1,"v":-0.49},{"t":652.6,"v":0.44},
      {"t":656.1,"v":-0.41},{"t":659.6,"v":0.76},{"t":663.2,"v":-0.25},{"t":667.5,"v":0.34},{"t":672.8,"v":-0.79},{"t":675.9,"v":0.92},{"t":679.8,"v":-0.15},{"t":684.2,"v":0.10},{"t":687.6,"v":-0.23},{"t":692.9,"v":0.22},
      {"t":696.4,"v":-0.10},{"t":701.6,"v":0.54},{"t":703.4,"v":-0.89},{"t":706.9,"v":0.72},{"t":712.2,"v":-0.10},{"t":715.7,"v":0.46},{"t":719.2,"v":-0.23},{"t":723.6,"v":0.66},{"t":726.6,"v":-0.89},{"t":731.5,"v":0.50},
      {"t":734.1,"v":-0.43},{"t":738.5,"v":0.42},{"t":743.4,"v":-0.06},{"t":746.9,"v":0.64},{"t":751.1,"v":-1.03},{"t":754.3,"v":0.22},{"t":757.3,"v":-0.15},{"t":761.2,"v":0.12},{"t":763.8,"v":-0.25},{"t":766.5,"v":0.44},
      {"t":769.1,"v":-0.23},{"t":770.8,"v":0.62},{"t":773.5,"v":-0.73},{"t":777.8,"v":0.62},{"t":782.2,"v":-0.53},{"t":784.8,"v":0.28},{"t":789.2,"v":-0.39},{"t":793.0,"v":0.56},{"t":797.1,"v":-0.67},{"t":801.1,"v":0.54},
      {"t":805.0,"v":-0.61},{"t":808.4,"v":0.22},{"t":811.1,"v":-0.29},{"t":813.7,"v":0.22},{"t":816.3,"v":-0.23},{"t":818.6,"v":0.88},{"t":823.3,"v":0.06},{"t":826.8,"v":0.58},{"t":829.4,"v":-0.93},{"t":832.9,"v":0.18},
      {"t":837.3,"v":-0.02},{"t":840.8,"v":0.28},{"t":845.2,"v":-0.37},{"t":849.6,"v":0.30},{"t":852.0,"v":0.1},{"t":854.0,"v":0.26},{"t":857.4,"v":-0.02},{"t":860.0,"v":0.15},{"t":862.7,"v":-0.06},{"t":866.2,"v":0.58},
      {"t":869.7,"v":-0.37},{"t":873.2,"v":-0.10},{"t":876.7,"v":0.82},{"t":880.2,"v":0.42},{"t":884.6,"v":-0.41},{"t":888.1,"v":0.48},{"t":892.5,"v":-0.69},{"t":896.0,"v":0.10},{"t":899.5,"v":-0.47},{"t":903.9,"v":0.18},
      {"t":908.2,"v":-0.33},{"t":912.1,"v":0.36},{"t":916.1,"v":-0.71},{"t":919.6,"v":0.88},{"t":923.1,"v":-0.65},{"t":927.5,"v":0.38},{"t":931.0,"v":-0.19},{"t":934.0,"v":0.1},{"t":937.1,"v":0.30},{"t":939.8,"v":-0.33},
      {"t":944.1,"v":0.78},{"t":946.8,"v":-0.63},{"t":950.3,"v":0.50},{"t":953.8,"v":0.06},{"t":956.0,"v":0.15},{"t":958.2,"v":0.26},{"t":960.5,"v":0.1},{"t":962.6,"v":0.38},{"t":965.2,"v":-0.89},{"t":967.8,"v":0.22},
      {"t":972.2,"v":-0.31},{"t":975.7,"v":0.40},{"t":979.2,"v":-0.39},{"t":983.6,"v":0.30},{"t":987.9,"v":-0.47},{"t":991.4,"v":0.34},{"t":994.9,"v":-0.61},{"t":998.5,"v":0.79},{"t":1000,"v":0.5}
    ]
  },
  "spacing": 409,
  "center": true,
  "bounds": "flush",
  "resolve": {
    "scale": {"x": "independent", "y": "independent", "color": "independent"},
    "legend": {"color": "independent"}
  },
  "vconcat": [
    {
      "width": 1766,
      "height": 1433,
      "data": {"name": "heave"},
      "title": {"text": "(a)", "orient": "bottom", "anchor": "middle", "dx": -135, "offset": 37, "font": "Liberation Serif", "fontWeight": "bold", "fontSize": 76, "color": "black"},
      "resolve": {"axis": {"x": "independent", "y": "independent"}},
      "layer": [
        {
          "mark": {"type": "line", "interpolate": "monotone", "strokeWidth": 2.6},
          "encoding": {
            "x": {
              "field": "t", "type": "quantitative",
              "scale": {"domain": [0, 1000], "nice": false, "zero": false},
              "axis": {
                "orient": "bottom",
                "values": [0, 250, 500, 750, 1000],
                "format": "d",
                "labelExpr": "datum.value % 500 === 0 ? datum.label : ''",
                "tickSize": {"condition": {"test": "datum.value % 500 === 0", "value": 28}, "value": 14},
                "labelFontSize": 46,
                "labelPadding": 27,
                "title": "Time (s)",
                "titleFontSize": 58,
                "titlePadding": 43
              }
            },
            "y": {
              "field": "b", "type": "quantitative",
              "scale": {"domain": [-0.8, 0.9], "nice": false, "zero": false},
              "axis": {
                "orient": "left",
                "values": [-0.8, -0.7, -0.6, -0.5, -0.4, -0.3, -0.2, -0.1, 0, 0.1, 0.2, 0.3, 0.4, 0.5, 0.6, 0.7, 0.8],
                "format": ".1f",
                "labelExpr": "abs(round(datum.value * 10)) % 2 === 0 ? datum.label : ''",
                "tickSize": {"condition": {"test": "abs(round(datum.value * 10)) % 2 === 0", "value": 28}, "value": 14},
                "labelFontSize": 48,
                "labelPadding": 22,
                "title": "Heave Displacement (m)",
                "titleFontSize": 60,
                "titlePadding": 18
              }
            },
            "color": {
              "datum": "sea state six conditions", "type": "nominal",
              "scale": {"domain": ["sea state four conditions", "sea state five conditions", "sea state six conditions"], "range": ["#3c3c3c", "#ff3b3b", "#0a72e0"]},
              "legend": {
                "title": " ", "titleFontSize": 15, "titlePadding": 7,
                "orient": "none", "legendX": 875, "legendY": 25,
                "padding": 12, "labelFontSize": 45.5, "labelOffset": 29,
                "symbolSize": 22200, "symbolStrokeWidth": 2.5, "clipHeight": 45,
                "rowPadding": 37, "labelLimit": 2000, "symbolType": "stroke"
              }
            }
          }
        },
        {
          "mark": {"type": "line", "interpolate": "monotone", "strokeWidth": 2.2},
          "encoding": {
            "x": {
              "field": "t", "type": "quantitative",
              "scale": {"domain": [0, 1000], "nice": false, "zero": false},
              "axis": {
                "orient": "top",
                "values": [0, 250, 500, 750, 1000],
                "labels": false,
                "title": null,
                "tickSize": {"condition": {"test": "datum.value % 500 === 0", "value": 28}, "value": 14},
                "minExtent": 28, "maxExtent": 28
              }
            },
            "y": {
              "field": "r", "type": "quantitative",
              "scale": {"domain": [-0.8, 0.9], "nice": false, "zero": false},
              "axis": {
                "orient": "right",
                "values": [-0.8, -0.7, -0.6, -0.5, -0.4, -0.3, -0.2, -0.1, 0, 0.1, 0.2, 0.3, 0.4, 0.5, 0.6, 0.7, 0.8],
                "labels": false,
                "title": null,
                "tickSize": {"condition": {"test": "abs(round(datum.value * 10)) % 2 === 0", "value": 28}, "value": 14},
                "minExtent": 30, "maxExtent": 30
              }
            },
            "color": {"datum": "sea state five conditions", "type": "nominal"}
          }
        },
        {
          "mark": {"type": "line", "interpolate": "monotone", "strokeWidth": 2.4},
          "encoding": {
            "x": {"field": "t", "type": "quantitative", "axis": null},
            "y": {"field": "k", "type": "quantitative", "axis": null},
            "color": {"datum": "sea state four conditions", "type": "nominal"}
          }
        }
      ]
    },
    {
      "width": 1904,
      "height": 1536,
      "title": {"text": "(b)", "orient": "bottom", "anchor": "middle", "dx": -76, "offset": 34, "font": "Liberation Serif", "fontWeight": "bold", "fontSize": 76, "color": "black"},
      "resolve": {"axis": {"x": "independent", "y": "independent"}},
      "layer": [
        {
          "data": {"name": "wb"},
          "mark": {"type": "line", "interpolate": "monotone", "strokeWidth": 2.8},
          "encoding": {
            "x": {
              "field": "t", "type": "quantitative",
              "scale": {"domain": [0, 1000], "nice": false, "zero": false},
              "axis": {
                "orient": "bottom",
                "values": [0, 250, 500, 750, 1000],
                "format": "d",
                "labelExpr": "datum.value % 500 === 0 ? datum.label : ''",
                "tickSize": {"condition": {"test": "datum.value % 500 === 0", "value": 29}, "value": 15},
                "labelFontSize": 50,
                "labelPadding": 30,
                "title": "Time (s)",
                "titleFontSize": 62,
                "titlePadding": 45
              }
            },
            "y": {
              "field": "v", "type": "quantitative",
              "scale": {"domain": [-3.5, 4], "nice": false, "zero": false},
              "axis": {
                "orient": "left",
                "values": [-3.5, -3, -2.5, -2, -1.5, -1, -0.5, 0, 0.5, 1, 1.5, 2, 2.5, 3, 3.5, 4],
                "format": ".0f",
                "labelExpr": "abs(round(datum.value * 2)) % 2 === 0 ? datum.label : ''",
                "tickSize": {"condition": {"test": "abs(round(datum.value * 2)) % 2 === 0", "value": 29}, "value": 15},
                "labelFontSize": 50,
                "labelPadding": 22,
                "title": "Wave Displacement (m)",
                "titleFontSize": 66,
                "titlePadding": 21
              }
            },
            "color": {
              "datum": "sea state six conditions", "type": "nominal",
              "scale": {"domain": ["sea state four conditions", "sea state five conditions", "sea state six conditions"], "range": ["#3c3c3c", "#ff3b3b", "#0a72e0"]},
              "legend": {
                "title": " ", "titleFontSize": 21, "titlePadding": 8,
                "orient": "none", "legendX": 965, "legendY": 12,
                "padding": 11, "labelFontSize": 48, "labelOffset": 32,
                "symbolSize": 25921, "symbolStrokeWidth": 2.5, "clipHeight": 48,
                "rowPadding": 41, "labelLimit": 2000, "symbolType": "stroke"
              }
            }
          }
        },
        {
          "data": {"name": "wr"},
          "mark": {"type": "line", "interpolate": "monotone", "strokeWidth": 2.6},
          "encoding": {
            "x": {
              "field": "t", "type": "quantitative",
              "scale": {"domain": [0, 1000], "nice": false, "zero": false},
              "axis": {
                "orient": "top",
                "values": [0, 250, 500, 750, 1000],
                "labels": false,
                "title": null,
                "domainWidth": 2.5,
                "tickSize": {"condition": {"test": "datum.value % 500 === 0", "value": 29}, "value": 15},
                "minExtent": 29, "maxExtent": 29
              }
            },
            "y": {
              "field": "v", "type": "quantitative",
              "scale": {"domain": [-3.5, 4], "nice": false, "zero": false},
              "axis": {
                "orient": "right",
                "values": [-3.5, -3, -2.5, -2, -1.5, -1, -0.5, 0, 0.5, 1, 1.5, 2, 2.5, 3, 3.5, 4],
                "labels": false,
                "title": null,
                "tickSize": {"condition": {"test": "abs(round(datum.value * 2)) % 2 === 0", "value": 29}, "value": 15},
                "minExtent": 30, "maxExtent": 30
              }
            },
            "color": {"datum": "sea state five conditions", "type": "nominal"}
          }
        },
        {
          "data": {"name": "wk"},
          "mark": {"type": "line", "interpolate": "monotone", "strokeWidth": 2.6},
          "encoding": {
            "x": {"field": "t", "type": "quantitative", "axis": null},
            "y": {"field": "v", "type": "quantitative", "axis": null},
            "color": {"datum": "sea state four conditions", "type": "nominal"}
          }
        }
      ]
    }
  ]
}
